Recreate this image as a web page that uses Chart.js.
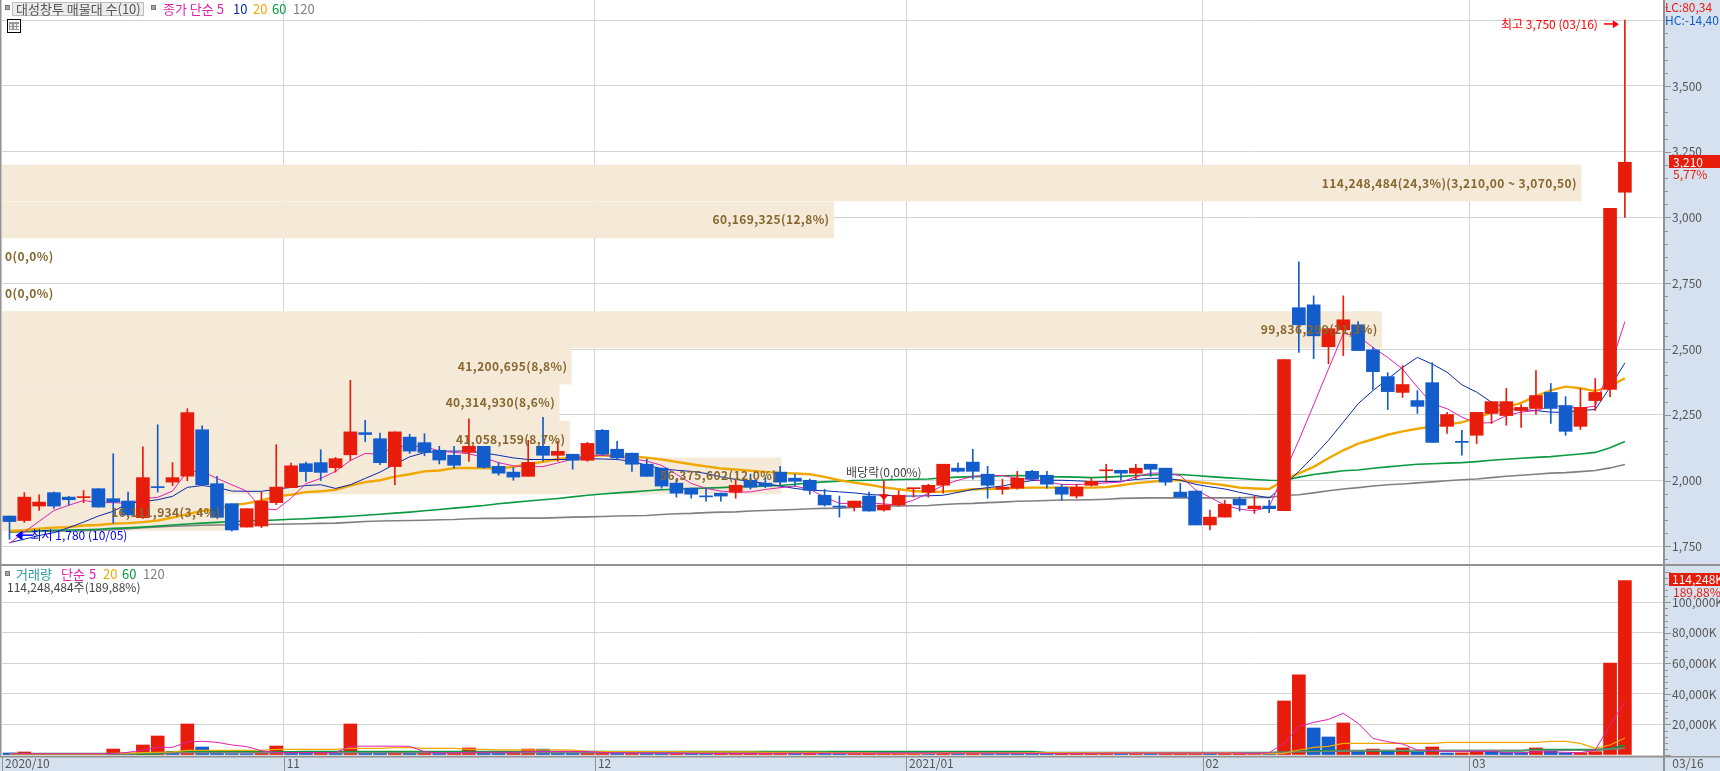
<!DOCTYPE html>
<html><head><meta charset="utf-8">
<script src="https://cdn.jsdelivr.net/npm/chart.js@4/dist/chart.umd.min.js"></script>
<style>html,body{margin:0;padding:0;background:#fff;overflow:hidden}canvas{display:block}</style>
</head><body><canvas id="c" width="1720" height="771"></canvas>
<script>
const dates=["10/05","10/06","10/07","10/08","10/12","10/13","10/14","10/15","10/16","10/19","10/20","10/21","10/22","10/23","10/26","10/27","10/28","10/29","10/30",
"11/02","11/03","11/04","11/05","11/06","11/09","11/10","11/11","11/12","11/13","11/16","11/17","11/18","11/19","11/20","11/23","11/24","11/25","11/26","11/27","11/30",
"12/01","12/02","12/03","12/04","12/07","12/08","12/09","12/10","12/11","12/14","12/15","12/16","12/17","12/18","12/21","12/22","12/23","12/24","12/28","12/29","12/30",
"01/04","01/05","01/06","01/07","01/08","01/11","01/12","01/13","01/14","01/15","01/18","01/19","01/20","01/21","01/22","01/25","01/26","01/27","01/28","01/29",
"02/01","02/02","02/03","02/04","02/05","02/08","02/09","02/10","02/15","02/16","02/17","02/18","02/19","02/22","02/23","02/24","02/25","02/26",
"03/02","03/03","03/04","03/05","03/08","03/09","03/10","03/11","03/12","03/15","03/16"];
const openPrices=[1865,1848,1903,1954,1937,1935,1969,1931,1922,1859,1975,1994,2017,2193,1988,1912,1823,1827,1916,1973,2064,2068,2049,2098,2182,2159,2053,2165,2144,
2115,2096,2107,2130,2054,2032,2016,2130,2096,2100,2077,2191,2119,2104,2062,2047,1990,1971,1941,1952,1956,2001,1990,2032,2009,2001,1944,1903,1899,
1941,1888,1907,1969,1956,1982,2047,2070,2024,1967,1971,2035,2020,1975,1941,1982,2037,2039,2028,2062,2047,1956,1960,1831,1861,1929,1893,1903,
1885,2657,2668,2509,2573,2592,2497,2395,2335,2304,2372,2206,2149,2172,2255,2247,2266,2274,2335,2285,2206,2304,2346,3096];
const closePrices=[1844,1937,1918,1903,1927,1937,1899,1918,1869,2011,1973,2011,2258,1984,1860,1812,1893,1922,1975,2056,2034,2031,2083,2185,2175,2068,2185,2112,2107,
2078,2058,2130,2050,2028,2013,2069,2096,2111,2077,2141,2100,2086,2062,2016,1979,1952,1948,1938,1941,1982,1975,1979,1994,1997,1963,1907,1899,1922,
1884,1907,1944,1971,1982,2062,2035,2035,1982,1975,2009,2005,1986,1948,1975,1997,2039,2028,2047,2043,1994,1937,1831,1861,1910,1907,1903,1893,
2460,2592,2550,2577,2611,2494,2414,2338,2365,2282,2145,2251,2145,2259,2300,2300,2278,2323,2274,2187,2278,2335,3035,3210];
const highPrices=[1865,1954,1946,1956,1940,1962,1969,2102,1956,2128,2212,2068,2273,2208,2016,1912,1893,1956,2136,2066,2070,2117,2088,2381,2229,2180,2185,2176,2178,
2130,2130,2235,2130,2069,2050,2153,2240,2149,2100,2145,2194,2149,2104,2082,2047,2005,1971,1971,1952,2005,2024,2011,2054,2024,2006,1967,1941,1922,
1956,2001,1961,1971,1986,2062,2066,2119,2054,2005,2035,2039,2035,1986,1986,2009,2062,2039,2062,2062,2047,1990,1960,1888,1925,1937,1941,1925,
2460,2831,2702,2577,2702,2604,2505,2410,2437,2342,2448,2259,2191,2259,2300,2350,2289,2418,2369,2319,2350,2388,3035,3750];
const lowPrices=[1777,1841,1886,1894,1906,1916,1899,1838,1869,1856,1956,1981,1999,1984,1860,1808,1823,1821,1908,1973,1997,2000,2032,2076,2148,2060,1984,2103,2094,
2063,2047,2073,2047,2020,2001,2016,2074,2074,2043,2073,2096,2078,2035,2016,1971,1937,1933,1922,1922,1933,1967,1973,1979,1979,1948,1903,1861,1884,
1884,1884,1903,1937,1937,1952,2032,2005,1933,1948,1967,2005,1971,1925,1933,1979,1994,2001,2005,2016,1982,1937,1831,1812,1861,1884,1875,1878,
1885,2487,2463,2444,2475,2494,2346,2270,2316,2255,2145,2179,2096,2141,2217,2210,2202,2251,2217,2172,2194,2266,2319,3000];
const ma5=[1761,1804,1845,1886,1906,1924,1916,1916,1913,1931,1936,1960,2035,2035,2008,1984,1960,1893,1889,1933,1988,2008,2035,2076,2103,2100,2130,2130,2130,
2112,2107,2102,2087,2068,2056,2052,2053,2067,2082,2092,2096,2090,2083,2074,2058,2024,1989,1970,1960,1955,1957,1966,1973,1979,1966,1938,1913,1913,
1916,1911,1907,1926,1951,1982,2001,2016,2019,2019,2009,2004,1995,1985,1985,1987,1991,1994,2014,2028,2029,2019,1966,1936,1907,1891,1885,1900,
2027,2153,2288,2424,2559,2550,2506,2468,2424,2355,2292,2273,2241,2218,2220,2247,2260,2266,2283,2283,2275,2283,2430,2604];
const ma10=[1764,1777,1791,1802,1821,1842,1865,1883,1913,1920,1927,1940,1974,1981,1974,1960,1959,1959,1967,1974,1981,1984,1970,1984,2008,2032,2062,2090,2106,
2111,2112,2112,2105,2096,2086,2080,2080,2080,2080,2083,2082,2080,2073,2058,2045,2039,2035,2027,2014,2004,1997,1989,1979,1970,1963,1961,1957,1953,
1947,1944,1941,1941,1942,1944,1955,1966,1973,1979,1991,2000,2001,2001,1999,1996,1996,1997,2004,2008,2009,2001,1986,1976,1968,1955,1944,1934,
1982,2035,2092,2153,2222,2292,2342,2386,2430,2468,2443,2412,2364,2336,2298,2273,2270,2266,2260,2259,2266,2270,2355,2447];
const ma20=[1808,1811,1817,1821,1823,1829,1831,1836,1838,1842,1848,1859,1872,1884,1893,1906,1913,1924,1940,1946,1956,1959,1965,1981,1994,2001,2015,2024,2035,
2038,2047,2048,2047,2046,2052,2063,2071,2082,2087,2092,2096,2095,2092,2087,2080,2071,2062,2054,2046,2042,2037,2033,2029,2027,2024,2014,2001,1992,
1984,1974,1967,1960,1956,1958,1961,1967,1968,1970,1972,1973,1973,1973,1973,1973,1975,1982,1990,1995,2001,2001,1995,1989,1982,1973,1970,1968,
2001,2027,2052,2085,2115,2140,2157,2174,2187,2197,2206,2213,2221,2239,2258,2277,2295,2321,2343,2357,2351,2340,2359,2389];
const ma60=[1806,1808,1809,1811,1812,1813,1815,1818,1820,1823,1827,1831,1835,1838,1841,1844,1846,1848,1850,1853,1855,1858,1861,1864,1868,1872,1876,1880,1885,
1890,1895,1900,1905,1912,1917,1922,1927,1932,1938,1944,1949,1953,1957,1961,1965,1967,1970,1971,1973,1976,1977,1979,1981,1986,1991,1995,1997,2000,
2001,2002,2004,2005,2006,2010,2013,2015,2016,2018,2019,2018,2015,2014,2013,2011,2013,2016,2019,2021,2024,2023,2019,2015,2011,2008,2004,2001,
2000,2013,2023,2030,2037,2040,2047,2052,2057,2062,2064,2066,2068,2072,2077,2081,2085,2088,2091,2096,2101,2107,2125,2148];
const ma120=[1804,1805,1806,1807,1808,1809,1811,1813,1817,1821,1824,1826,1828,1830,1831,1832,1833,1833,1834,1835,1836,1837,1838,1841,1844,1846,1847,1848,1849,
1851,1852,1855,1856,1856,1857,1857,1857,1859,1861,1862,1863,1865,1866,1867,1871,1874,1875,1878,1880,1881,1884,1886,1888,1890,1893,1894,1895,1898,
1902,1903,1903,1904,1905,1909,1912,1913,1916,1918,1921,1922,1924,1926,1926,1927,1929,1932,1933,1934,1934,1934,1934,1934,1934,1934,1936,1936,
1943,1946,1953,1961,1968,1973,1979,1984,1987,1991,1995,1999,2003,2006,2011,2016,2020,2024,2028,2030,2034,2038,2048,2061];
const volumes=[1300,1970,900,850,800,900,950,3900,900,6560,12460,2400,20330,5250,2600,900,850,2200,5900,1500,
1400,1600,1400,20330,1500,1400,1500,1400,1500,1400,1500,4600,1500,1400,1500,3900,3850,1500,1400,1600,
1800,1300,1400,1100,1000,1100,1000,900,1000,1100,1200,1250,1300,1200,1300,1200,1100,1150,1200,1250,
1300,1350,1200,1400,1200,1400,1200,1100,1000,950,900,1100,1200,1300,1400,1200,1400,1200,1400,1450,
1500,1000,1100,1200,1300,1100,35400,52460,17700,11800,21000,2200,3900,2400,4600,2000,5250,1300,1400,2400,
2300,1500,1400,4600,2400,1300,1500,2200,60169,114248];
const volMa5=[900,900,900,900,900,900,900,1000,1750,3300,5000,5000,8500,9000,8300,6600,5500,2800,1600,1600,
1600,1600,1600,5700,5800,5800,5800,5700,2200,1300,1300,1800,1800,1800,1800,2200,2300,2300,2300,2300,
1700,1400,1300,1200,1100,1100,1100,1000,1000,1000,1050,1100,1150,1200,1200,1200,1200,1200,1150,1150,
1200,1250,1250,1300,1300,1300,1300,1250,1200,1100,1000,1000,1050,1100,1150,1200,1250,1250,1300,1300,
1350,1300,1250,1200,800,1500,7650,18600,21400,23300,27300,20800,10900,8700,7200,3300,2800,2400,2400,2400,
2400,1500,1500,2000,2000,1750,1500,3300,19700,35000];
const volMa20=[800,800,800,800,800,800,800,1000,1200,1500,1800,2000,3000,3060,3060,3060,3060,3100,3700,3700,
3700,3700,3700,4400,4400,4400,4800,4800,4400,4400,4400,3700,3700,3300,3300,3300,3300,3300,3200,2400,
2300,2300,2300,2300,2300,2300,2000,2000,2000,2000,2000,1700,1700,1700,1700,1700,1400,1400,1400,850,
850,850,850,1400,1400,1400,1400,1400,1400,1400,1400,1400,1400,1400,1400,1400,1400,1400,1400,1400,
1400,1400,1400,1000,800,850,1100,3300,5000,5700,7650,7650,7650,7650,7650,7650,7650,8300,8300,8300,
8300,8300,8300,8300,8960,8960,7650,4400,6560,11150];
const volMa60=[800,800,800,800,800,800,800,800,800,800,800,2000,2000,2000,2000,2000,2000,2000,2000,2000,
2200,2200,2200,2200,2200,2200,2200,2200,2200,2200,2200,2200,2200,2200,2200,2200,2200,2200,2200,2200,
2200,2200,2200,2200,2200,2200,2200,2200,2200,2200,2200,2200,2200,2200,2200,2200,2200,2200,2200,2200,
2200,2200,2200,2200,2200,2200,2200,2200,2200,2200,1500,1500,1500,1500,1500,1500,1500,1500,1500,1500,
1500,1500,1500,1500,1500,1500,1800,2500,2500,2840,2840,2840,2840,2840,2840,2840,2840,2840,2840,2840,
2840,2840,2840,3500,3500,3500,3500,3500,4150,6300];
const volMa120=[600,600,600,600,600,600,600,600,600,1500,1500,1500,1500,1500,1500,1500,1500,1500,1500,1500,
1500,1500,1500,1500,1500,1500,1500,1500,1500,1500,1500,1500,1500,1500,1500,1500,1500,1500,1500,1500,
1500,1500,1500,1500,1500,1500,1500,1500,1500,1500,1500,1500,1500,1500,1500,1500,1500,1500,1500,1500,
1500,1500,1500,1500,1500,1500,1500,1500,1500,1500,1500,1500,1500,1500,1500,1500,1500,1500,1500,1500,
1500,1500,1500,1500,1500,1500,1800,2200,2200,2400,2600,2800,3060,3060,3060,3060,3060,3060,3060,3060,
3060,3060,3060,3060,3060,3060,3060,3060,3800,4400];
const profileVolumes=[114248484,60169325,0,0,99836299,41200695,40314930,41058159,56375602,16111934];
const profilePercents=["24,3","12,8","0,0","0,0","21,3","8,8","8,6","8,7","12,0","3,4"];
const profilePrices=[3131,2991,2852,2713,2574,2435,2296,2157,2018,1879];
const profileRange="(3,210,00 ~ 3,070,50)";
const priceGridTicks=[1750,2000,2250,2500,2750,3000,3250,3500,3750];
const priceLabelTicks=[1750,2000,2250,2500,2750,3000,3250,3500];
const volLabelTicks=[20000,40000,60000,80000,100000];

const RED='#e81c0a',BLUE='#125ccc',GRID='#d4d4d4',PANEL='#d6e1f0',AXIS='#929292',BAND='#f5e9d8';
const MAG='#e020b0',NAVY='#0a2aa8',ORG='#f0a800',GRN='#0a9a40',GRY='#808080';
const FONT='"Noto Sans CJK KR","Noto Sans",sans-serif';
const xy=a=>a.map((v,i)=>({x:i,y:v}));
const fmt=v=>v.toLocaleString('en-US');
const lineDs=(label,arr,color,w,yAxisID,order)=>({type:'line',label,data:xy(arr),borderColor:color,borderWidth:w,pointRadius:0,tension:0,xAxisID:'x',yAxisID,order,fill:false});
const isUp=i=>closePrices[i]>=openPrices[i];
const candleColor=c=>isUp(c.dataIndex)?RED:BLUE;
const volColor=c=>(c.dataIndex>0&&volumes[c.dataIndex]>=volumes[c.dataIndex-1])?RED:BLUE;
const noPad=s=>{s.paddingTop=0;s.paddingBottom=0;s.paddingLeft=0;s.paddingRight=0;};
const stepTicks=(from,to,step)=>{const r=[];for(let v=from;v<=to;v+=step)r.push({value:v});return r;};

const monthStarts=[];dates.forEach((d,i)=>{if(i===0||d.slice(0,2)!==dates[i-1].slice(0,2))monthStarts.push(i);});
const monthLabel=i=>{const m=dates[i].slice(0,2);return i===0?'2020/'+m:(m==='01'?'2021/01':m);};

const overlay={id:'overlay',
 beforeDraw(ch){const g=ch.ctx,a=ch.chartArea;g.save();g.fillStyle='#fff';g.fillRect(0,0,ch.width,ch.height);
  g.fillStyle=PANEL;g.fillRect(a.right,0,ch.width-a.right,ch.height);g.fillRect(0,a.bottom,ch.width,ch.height-a.bottom);g.restore();},
 afterDraw(ch){const g=ch.ctx,a=ch.chartArea,X=ch.scales.x,Y=ch.scales.yPrice,V=ch.scales.yVol,Q=ch.scales.xProfile;
  g.save();
  g.fillStyle=AXIS;
  g.fillRect(0,0,1.5,a.bottom);g.fillRect(a.right-1,0,2,ch.height);g.fillRect(0,Y.bottom-1,ch.width,2);g.fillRect(0,a.bottom,ch.width,1.5);
  for(const t of Y.ticks){const p=Math.round(Y.getPixelForValue(t.value));if(p<0||p>Y.bottom-2)continue;g.fillRect(a.right+1,p,priceGridTicks.includes(t.value)?6:3,1);}
  for(const t of V.ticks){const p=Math.round(V.getPixelForValue(t.value));if(p<V.top+2||p>V.bottom)continue;g.fillRect(a.right+1,p,t.value%20000===0?6:3,1);}
  X.ticks.forEach((t,k)=>{if(k<X.ticks.length-1)g.fillRect(Math.round(X.getPixelForValue(t.value)),a.bottom,1,15);});
  g.textBaseline='middle';g.textAlign='left';
  g.font='bold 12px '+FONT;g.fillStyle='#86672f';g.letterSpacing='0.4px';
  profileVolumes.forEach((v,i)=>{let s=fmt(v)+'('+profilePercents[i]+'%)';if(i===0)s+=profileRange;const y=Y.getPixelForValue(profilePrices[i]);
   if(v===0){g.textAlign='left';g.fillText(s,5,y);}else{g.textAlign='right';g.fillText(s,Q.getPixelForValue(v)-4,y);}});
  g.letterSpacing='0px';
  g.textAlign='left';
  const square=(x,y)=>{g.fillStyle='#a8a8a8';g.fillRect(x,y,5,5);g.strokeStyle='#777';g.lineWidth=1;g.strokeRect(x+.5,y+.5,4,4);};
  g.font='13px '+FONT;
  square(5,5);
  g.fillStyle='#ececec';g.fillRect(12,2,132,13);g.strokeStyle='#bdbdbd';g.strokeRect(12.5,2.5,131,13);
  g.fillStyle='#555';g.fillText('대성창투 매물대 수(10)',16,9);
  square(151,5);
  [['종가 단순 5',163,MAG],['10',233,NAVY],['20',253,ORG],['60',272,GRN],['120',293,GRY]].forEach(([s,x,c])=>{g.fillStyle=c;g.fillText(s,x,9);});
  g.fillStyle='#fff';g.fillRect(7,19,14,13);g.strokeStyle='#000';g.strokeRect(7.5,19.5,13,13);g.fillStyle='#999';g.fillRect(9,22,10,8);
  g.fillStyle='#eee';for(const px of [10,14,17])for(const py of [24,27])g.fillRect(px,py,2,2);
  square(5,571);
  [['거래량',16,'#2a9d9d'],['단순',61,MAG],['5',89,MAG],['20',103,ORG],['60',122,GRN],['120',143,GRY]].forEach(([s,x,c])=>{g.fillStyle=c;g.fillText(s,x,574);});
  g.font='12px '+FONT;
  g.fillStyle='#444';g.fillText(fmt(114248484)+'주(189,88%)',7,587);
  const hx=X.getPixelForValue(109),hy=Y.getPixelForValue(3750);
  g.fillStyle='#f00';g.textAlign='right';g.fillText('최고 '+fmt(3750)+' ('+dates[109]+')',hx-27,hy+4);
  g.fillRect(hx-21,hy+3,10,1.5);g.beginPath();g.moveTo(hx-6,hy+4);g.lineTo(hx-12,hy);g.lineTo(hx-12,hy+8);g.fill();
  const lx=X.getPixelForValue(0),ly=Y.getPixelForValue(1780);
  g.fillStyle='#00f';g.textAlign='left';g.fillText('최저 '+fmt(1780)+' ('+dates[0]+')',lx+21,ly-3);
  g.fillRect(lx+11,ly-4,12,1.5);g.beginPath();g.moveTo(lx+6,ly-3);g.lineTo(lx+13,ly-8);g.lineTo(lx+13,ly+2);g.fill();
  const dx=X.getPixelForValue(59),dy=Y.getPixelForValue(1940);
  g.fillStyle='#f00';g.beginPath();g.moveTo(dx-5,dy-2);g.lineTo(dx+5,dy-2);g.lineTo(dx,dy+4);g.fill();
  g.fillStyle='#444';g.textAlign='center';g.fillText('배당락(0,00%)',dx,472);
  g.textAlign='left';
  g.fillStyle=RED;g.fillText('LC:80,34',a.right+1,7);g.fillStyle=BLUE;g.fillText('HC:-14,40',a.right+1,20);
  g.fillStyle=RED;g.fillRect(1669,155,51,13);g.fillStyle='#fff';g.fillText(fmt(3210),1673,162);
  g.fillStyle=RED;g.fillText('5,77%',1673,174);
  g.fillStyle=RED;g.fillRect(1669,573,51,13);g.fillStyle='#fff';g.fillText('114,248K',1672,579.5);
  g.fillStyle=RED;g.fillText('189,88%',1673,592);
  g.restore();}
};

new Chart(document.getElementById('c'),{
 data:{datasets:[
  {type:'bar',indexAxis:'y',label:'매물대',data:profileVolumes.map((v,i)=>({x:v,y:profilePrices[i]})),backgroundColor:BAND,barThickness:36,grouped:false,xAxisID:'xProfile',yAxisID:'yPrice',order:20},
  lineDs('120',ma120,GRY,1.6,'yPrice',9),lineDs('60',ma60,GRN,1.6,'yPrice',8),lineDs('20',ma20,ORG,2.4,'yPrice',7),lineDs('10',ma10,NAVY,1,'yPrice',6),lineDs('5',ma5,MAG,1,'yPrice',5),
  {type:'bar',label:'고저',data:xy(lowPrices.map((l,i)=>[l,highPrices[i]])),backgroundColor:candleColor,barThickness:1,grouped:false,minBarLength:1,xAxisID:'x',yAxisID:'yPrice',order:4},
  {type:'bar',label:'시종',data:xy(openPrices.map((o,i)=>[o,closePrices[i]])),backgroundColor:candleColor,barThickness:13,grouped:false,minBarLength:1,xAxisID:'x',yAxisID:'yPrice',order:3},
  {type:'bar',label:'거래량',data:xy(volumes),backgroundColor:volColor,barThickness:13,grouped:false,xAxisID:'x',yAxisID:'yVol',order:3},
  lineDs('V120',volMa120,GRY,1.4,'yVol',1.4),lineDs('V60',volMa60,GRN,2,'yVol',1.5),lineDs('V20',volMa20,ORG,1.2,'yVol',1.3),lineDs('V5',volMa5,MAG,1,'yVol',1.2)
 ]},
 plugins:[overlay],
 options:{responsive:false,animation:false,devicePixelRatio:1,
  layout:{padding:{left:2,right:0,top:0,bottom:0}},
  plugins:{legend:{display:false},tooltip:{enabled:false}},
  scales:{
   x:{type:'linear',position:'bottom',min:-0.506,max:111.64,offset:false,
     afterBuildTicks(s){s.ticks=monthStarts.map(i=>({value:i-0.5})).concat([{value:112}]);},
     afterFit(s){s.height=15;noPad(s);},
     border:{display:false},
     grid:{offset:false,color:c=>(c.tick&&c.tick.value<112&&c.tick.value>0)?GRID:'rgba(0,0,0,0)',drawTicks:false,lineWidth:1},
     ticks:{autoSkip:false,maxRotation:0,minRotation:0,align:'start',labelOffset:3,padding:0,color:'#555',font:{family:FONT,size:12},
       callback(v){return v>=112?dates[dates.length-1]:monthLabel(Math.round(v+0.5));}}},
   xProfile:{type:'linear',display:false,position:'bottom',min:0,max:120260000},
   yPrice:{type:'linear',position:'right',stack:'panes',stackWeight:565,min:1678.9,max:3826.8,offset:false,
     afterBuildTicks(s){s.ticks=stepTicks(1700,3800,50);},
     afterFit(s){s.width=56;noPad(s);},
     border:{display:false},
     grid:{offset:false,color:c=>(c.tick&&priceGridTicks.includes(c.tick.value))?GRID:'rgba(0,0,0,0)',drawTicks:false},
     ticks:{autoSkip:false,padding:8,color:'#555',font:{family:FONT,size:12},
       callback(v){return priceLabelTicks.includes(v)?fmt(v):'';}}},
   yVol:{type:'linear',position:'right',stack:'panes',stackWeight:191,min:-655,max:124500,
     afterBuildTicks(s){s.ticks=stepTicks(0,120000,4000);},
     afterFit(s){s.width=56;noPad(s);},
     border:{display:false},
     grid:{color:c=>(c.tick&&c.tick.value%20000===0&&c.tick.value<120000)?GRID:'rgba(0,0,0,0)',drawTicks:false},
     ticks:{autoSkip:false,padding:8,color:'#555',font:{family:FONT,size:12},
       callback(v){return volLabelTicks.includes(v)?fmt(v)+'K':(v===100000?fmt(v)+'K':'');}}}
  }}
});
</script></body></html>
